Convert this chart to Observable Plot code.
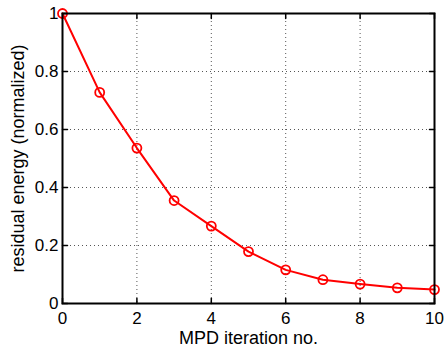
<!DOCTYPE html>
<html>
<head>
<meta charset="utf-8">
<script src="https://cdn.jsdelivr.net/npm/d3@7"></script>
<script src="https://cdn.jsdelivr.net/npm/@observablehq/plot@0.6"></script>
<style>
  html, body { margin: 0; padding: 0; background: #fff; }
  svg { display: block; }
</style>
</head>
<body>
<div id="chart"></div>
<script>
const iterations = [0, 1, 2, 3, 4, 5, 6, 7, 8, 9, 10];
const energy = [1.0, 0.728, 0.536, 0.355, 0.267, 0.179, 0.116, 0.082, 0.067, 0.054, 0.048];
const xTicks = [0, 2, 4, 6, 8, 10];
const yTicks = [0, 0.2, 0.4, 0.6, 0.8, 1];
const yTickLabels = ["0", "0.2", "0.4", "0.6", "0.8", "1"];
const xGrid = [2, 4, 6, 8];
const yGrid = [0.2, 0.4, 0.6, 0.8];

const data = iterations.map((x, i) => ({x, y: energy[i]}));

const tickShape = { draw(ctx, l) { ctx.moveTo(0, 0); ctx.lineTo(0, -l); } };

const chart = Plot.plot({
  width: 446,
  height: 352,
  marginLeft: 62,
  marginRight: 12,
  marginTop: 13,
  marginBottom: 49,
  style: { fontFamily: "'Liberation Sans', Arial, Helvetica, sans-serif", fontSize: "17px", background: "#fff", color: "#000" },
  x: { domain: [0, 10] },
  y: { domain: [0, 1] },
  marks: [
    Plot.ruleX(xGrid, { x: d => d, stroke: "#555", strokeWidth: 1, strokeDasharray: "1,3" }),
    Plot.ruleY(yGrid, { y: d => d, stroke: "#555", strokeWidth: 1, strokeDasharray: "1,3" }),
    // inward ticks on all four sides
    Plot.vector(xTicks, { x: d => d, frameAnchor: "bottom", length: 5, rotate: 0, shape: tickShape, anchor: "start", stroke: "#000", strokeWidth: 1.5 }),
    Plot.vector(xTicks, { x: d => d, frameAnchor: "top", length: 5, rotate: 180, shape: tickShape, anchor: "start", stroke: "#000", strokeWidth: 1.5 }),
    Plot.vector(yTicks, { y: d => d, frameAnchor: "left", length: 5, rotate: 90, shape: tickShape, anchor: "start", stroke: "#000", strokeWidth: 1.5 }),
    Plot.vector(yTicks, { y: d => d, frameAnchor: "right", length: 5, rotate: -90, shape: tickShape, anchor: "start", stroke: "#000", strokeWidth: 1.5 }),
    Plot.axisX(xTicks, { tickSize: 0, tickPadding: 8, fontSize: 17, label: null }),
    Plot.axisX({ ticks: [], tickSize: 0, fontSize: 18, label: "MPD iteration no.", labelAnchor: "center", labelOffset: 40, labelArrow: "none" }),
    Plot.axisY(yTicks, { tickSize: 0, tickPadding: 4, fontSize: 17, tickFormat: (d, i) => yTickLabels[i], label: null }),
    Plot.axisY({ ticks: [], tickSize: 0, fontSize: 18, label: "residual energy (normalized)", labelAnchor: "center", labelOffset: 51, labelArrow: "none" }),
    Plot.line(data, { x: "x", y: "y", stroke: "#ff0000", strokeWidth: 2 }),
    Plot.dot(data, { x: "x", y: "y", r: 4.5, stroke: "#ff0000", strokeWidth: 1.8, fill: "none" }),
    Plot.frame({ stroke: "#000", strokeWidth: 2 })
  ]
});
document.getElementById("chart").appendChild(chart);
</script>
</body>
</html>
